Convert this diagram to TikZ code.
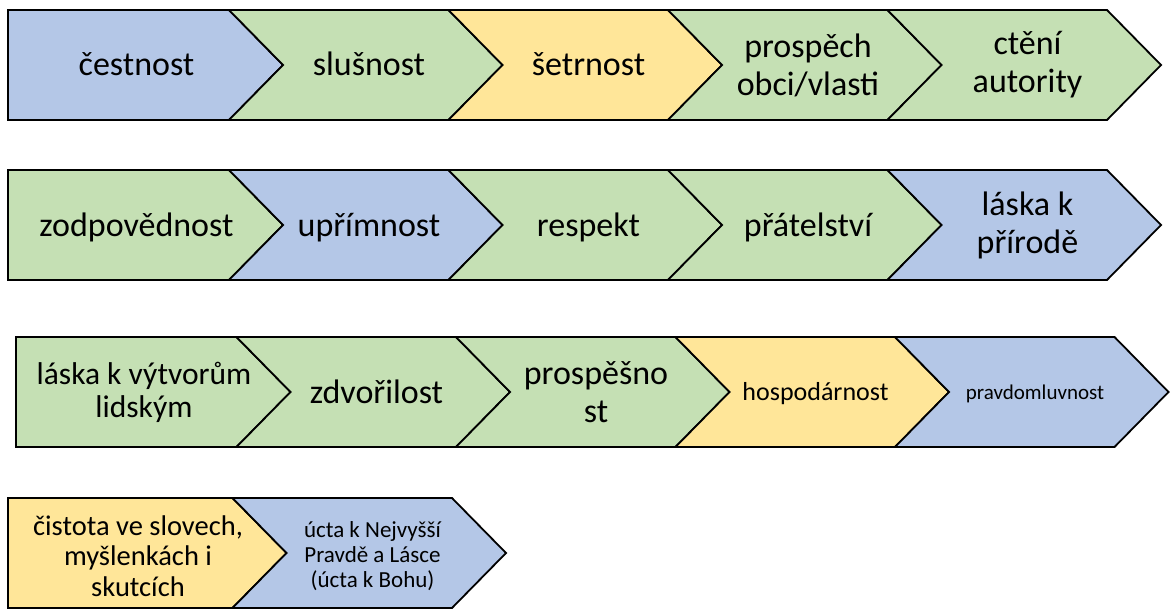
\documentclass[tikz,border=0pt]{standalone}
\usepackage{fontspec}
\setmainfont{Carlito}
\usepackage{tikz}
\usepackage{xcolor}
\definecolor{valblue}{HTML}{B4C7E7}
\definecolor{valgreen}{HTML}{C5E0B4}
\definecolor{valyellow}{HTML}{FFE699}

\newcommand{\chevron}[3]{\filldraw[box,fill=#3] (#1,#2) -- ++(219.5,0) -- ++(54,55) -- ++(-54,55) -- ++(-219.5,0) -- ++(54,-55) -- cycle;}
\newcommand{\firstbox}[4]{\filldraw[box,fill=#4] (#1,#2) -- (#3,#2) -- ++(54,55) -- ++(-54,55) -- ($(#1,#2)+(0,110)$) -- cycle;}

\usetikzlibrary{calc}

\begin{document}
\begin{tikzpicture}[x=1pt,y=-1pt]
\tikzstyle{box}=[draw=black,line width=1.8pt,line join=miter]
\tikzstyle{word}=[align=center,inner sep=0pt,font=\fontsize{34}{38}\selectfont]
\tikzstyle{oneline}=[word,anchor=base]
\useasboundingbox (0,0) rectangle (1170,610);
\firstbox{8}{10}{229}{valblue}
\chevron{229}{10}{valgreen}
\chevron{448.5}{10}{valyellow}
\chevron{668}{10}{valgreen}
\chevron{887.5}{10}{valgreen}
\node[oneline](cestnost) at (136.5,76){čestnost};
\node[oneline](slusnost) at (369,76){slušnost};
\node[oneline](setrnost) at (588.5,76){šetrnost};
\node[word](prospech) at (808,65){prospěch\\obci/vlasti};
\node[word](cteni) at (1027.5,65){ctění\\autority};
\firstbox{8}{170}{229}{valgreen}
\chevron{229}{170}{valblue}
\chevron{448.5}{170}{valgreen}
\chevron{668}{170}{valgreen}
\chevron{887.5}{170}{valblue}
\node[oneline](zodpovednost) at (136.5,236){zodpovědnost};
\node[oneline](uprimnost) at (369,236){upřímnost};
\node[oneline](respekt) at (588.5,236){respekt};
\node[oneline](pratelstvi) at (808,236){přátelství};
\node[word](priroda) at (1027.5,225){láska k\\přírodě};
\firstbox{16}{337}{236.5}{valgreen}
\chevron{236.5}{337}{valgreen}
\chevron{456}{337}{valgreen}
\chevron{675.5}{337}{valyellow}
\chevron{895}{337}{valblue}
\node[word,font=\fontsize{31.5}{33}\selectfont](vytvory) at (144,392){láska k výtvorům\\lidským};
\node[oneline](zdvorilost) at (376.5,403){zdvořilost};
\node[word](prospesnost) at (596,392){prospěšno\\st};
\node[oneline,font=\fontsize{26}{30}\selectfont](hospodarnost) at (815.5,400){hospodárnost};
\node[oneline,font=\fontsize{21}{24}\selectfont](pravdomluvnost) at (1035,399){pravdomluvnost};
\firstbox{8}{498}{232.5}{valyellow}
\chevron{232.5}{498}{valblue}
\node[word,font=\fontsize{28.5}{30.5}\selectfont](cistota) at (138,556){čistota ve slovech,\\myšlenkách i\\skutcích};
\node[word,font=\fontsize{23}{25}\selectfont](ucta) at (372.5,556){úcta k Nejvyšší\\Pravdě a Lásce\\(úcta k Bohu)};
\end{tikzpicture}
\end{document}
